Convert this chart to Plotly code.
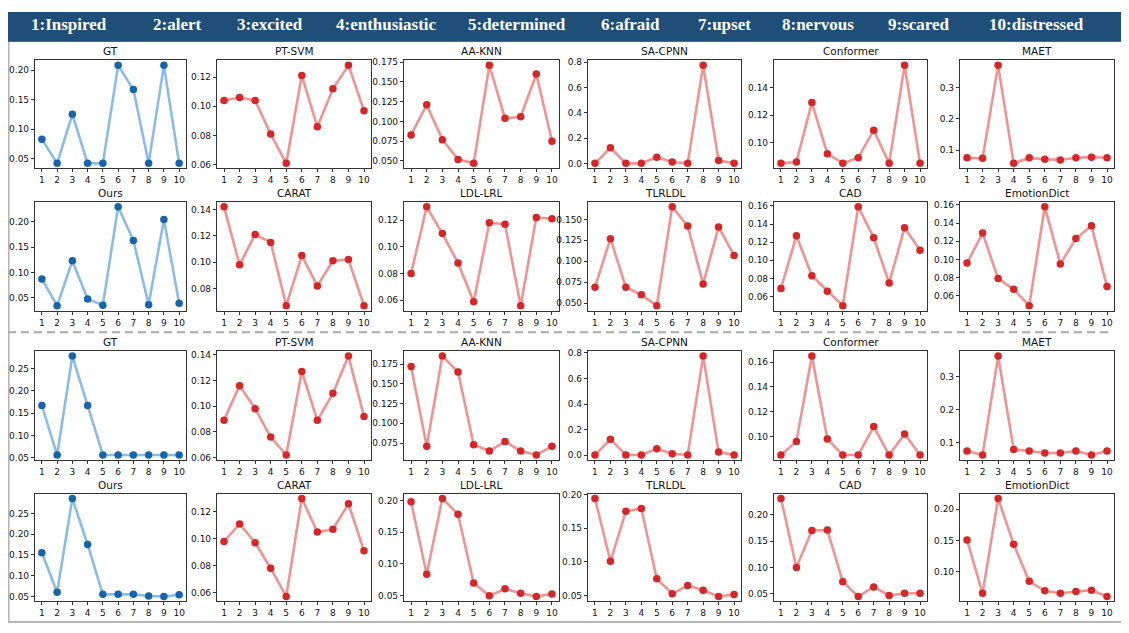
import plotly.graph_objects as go

W, H = 1129, 633
OFF = 8  # page body margin applied by the browser
FW, FH = W - OFF, H - OFF

categories = [1, 2, 3, 4, 5, 6, 7, 8, 9, 10]
x_tick_labels = ["1", "2", "3", "4", "5", "6", "7", "8", "9", "10"]
emotion_labels = ["1:Inspired", "2:alert", "3:excited", "4:enthusiastic", "5:determined",
                  "6:afraid", "7:upset", "8:nervous", "9:scared", "10:distressed"]

# ---- sample 1 (top half) ----
gt_1 = [0.083, 0.042, 0.125, 0.042, 0.042, 0.208, 0.167, 0.042, 0.208, 0.042]
ptsvm_1 = [0.104, 0.106, 0.104, 0.081, 0.061, 0.121, 0.086, 0.112, 0.128, 0.097]
aaknn_1 = [0.083, 0.121, 0.077, 0.052, 0.047, 0.171, 0.104, 0.106, 0.160, 0.075]
sacpnn_1 = [0.002, 0.125, 0.002, 0.002, 0.050, 0.012, 0.002, 0.775, 0.025, 0.002]
conformer_1 = [0.085, 0.086, 0.129, 0.092, 0.085, 0.089, 0.109, 0.085, 0.156, 0.085]
maet_1 = [0.075, 0.073, 0.373, 0.057, 0.075, 0.070, 0.068, 0.075, 0.077, 0.075]
ours_1 = [0.087, 0.034, 0.123, 0.047, 0.035, 0.230, 0.163, 0.036, 0.205, 0.039]
carat_1 = [0.142, 0.098, 0.121, 0.115, 0.067, 0.105, 0.082, 0.101, 0.102, 0.067]
ldllrl_1 = [0.080, 0.130, 0.110, 0.088, 0.059, 0.118, 0.117, 0.056, 0.122, 0.121]
tlrldl_1 = [0.069, 0.127, 0.069, 0.060, 0.047, 0.165, 0.142, 0.073, 0.141, 0.107]
cad_1 = [0.069, 0.127, 0.083, 0.066, 0.050, 0.159, 0.125, 0.075, 0.136, 0.111]
emotiondict_1 = [0.096, 0.129, 0.079, 0.067, 0.049, 0.158, 0.095, 0.123, 0.137, 0.070]

# ---- sample 2 (bottom half) ----
gt_2 = [0.167, 0.056, 0.278, 0.167, 0.056, 0.056, 0.056, 0.056, 0.056, 0.056]
ptsvm_2 = [0.089, 0.116, 0.098, 0.076, 0.062, 0.127, 0.089, 0.110, 0.139, 0.092]
aaknn_2 = [0.172, 0.071, 0.185, 0.165, 0.073, 0.065, 0.077, 0.065, 0.060, 0.071]
sacpnn_2 = [0.002, 0.125, 0.002, 0.002, 0.050, 0.012, 0.002, 0.775, 0.025, 0.002]
conformer_2 = [0.085, 0.096, 0.165, 0.098, 0.085, 0.085, 0.108, 0.085, 0.102, 0.085]
maet_2 = [0.075, 0.063, 0.363, 0.080, 0.075, 0.069, 0.069, 0.075, 0.063, 0.075]
ours_2 = [0.155, 0.060, 0.286, 0.175, 0.055, 0.055, 0.055, 0.051, 0.050, 0.054]
carat_2 = [0.098, 0.111, 0.097, 0.078, 0.057, 0.130, 0.105, 0.107, 0.126, 0.091]
ldllrl_2 = [0.198, 0.084, 0.203, 0.178, 0.070, 0.050, 0.061, 0.054, 0.049, 0.053]
tlrldl_2 = [0.194, 0.101, 0.175, 0.179, 0.075, 0.053, 0.065, 0.058, 0.049, 0.052]
cad_2 = [0.231, 0.100, 0.170, 0.171, 0.073, 0.045, 0.063, 0.047, 0.051, 0.051]
emotiondict_2 = [0.151, 0.066, 0.217, 0.144, 0.085, 0.070, 0.066, 0.069, 0.071, 0.061]

panel_titles = [
    ["GT", "PT-SVM", "AA-KNN", "SA-CPNN", "Conformer", "MAET"],
    ["Ours", "CARAT", "LDL-LRL", "TLRLDL", "CAD", "EmotionDict"],
    ["GT", "PT-SVM", "AA-KNN", "SA-CPNN", "Conformer", "MAET"],
    ["Ours", "CARAT", "LDL-LRL", "TLRLDL", "CAD", "EmotionDict"],
]
panel_data = [
    [gt_1, ptsvm_1, aaknn_1, sacpnn_1, conformer_1, maet_1],
    [ours_1, carat_1, ldllrl_1, tlrldl_1, cad_1, emotiondict_1],
    [gt_2, ptsvm_2, aaknn_2, sacpnn_2, conformer_2, maet_2],
    [ours_2, carat_2, ldllrl_2, tlrldl_2, cad_2, emotiondict_2],
]

# ---- styles / layout ----
tick_style = [
    [(0.05, ".2f"), (0.02, ".2f"), (0.025, ".3f"), (0.2, ".1f"), (0.02, ".2f"), (0.1, ".1f")],
    [(0.05, ".2f"), (0.02, ".2f"), (0.02, ".2f"), (0.025, ".3f"), (0.02, ".2f"), (0.02, ".2f")],
    [(0.05, ".2f"), (0.02, ".2f"), (0.025, ".3f"), (0.2, ".1f"), (0.02, ".2f"), (0.1, ".1f")],
    [(0.05, ".2f"), (0.02, ".2f"), (0.05, ".2f"), (0.05, ".2f"), (0.05, ".2f"), (0.05, ".2f")],
]
col_px = [(35, 186), (217, 371), (404, 559), (588, 741), (774, 927), (960, 1114)]
row_px = [(57, 166), (200, 310), (351, 461), (495, 604)]
header_centers = [69, 177, 270, 386, 517, 630, 724, 818, 919, 1036]


def px(x):
    return (x - OFF) / FW


def py(y):
    return 1 - (y - OFF) / FH


BLUE_M, BLUE_L = "#1764ab", "#8bbce8"
RED_M, RED_L = "#d62728", "#f09393"

fig = go.Figure()
annotations = []
layout_axes = {}
k = 0
for r in range(4):
    for c in range(6):
        k += 1
        ys = panel_data[r][c]
        is_blue = panel_titles[r][c] in ("GT", "Ours")
        mc, lc = (BLUE_M, BLUE_L) if is_blue else (RED_M, RED_L)
        xa = "x" if k == 1 else f"x{k}"
        ya = "y" if k == 1 else f"y{k}"
        fig.add_trace(go.Scatter(
            x=categories, y=ys, mode="lines+markers", xaxis=xa, yaxis=ya,
            line=dict(color=lc, width=2.6),
            marker=dict(color=mc, size=7.5),
            showlegend=False, hoverinfo="skip"))
        lo, hi = min(ys), max(ys)
        span = hi - lo
        x0, x1 = col_px[c]
        t0, t1 = row_px[r]
        dt, fmt = tick_style[r][c]
        axis_common = dict(showline=True, mirror=True, linecolor="#333333", linewidth=1.2,
                           showgrid=False, zeroline=False, ticks="outside", ticklen=3,
                           tickwidth=1, tickcolor="#333333",
                           tickfont=dict(family="DejaVu Sans", size=9, color="#111111"))
        layout_axes["xaxis" if k == 1 else f"xaxis{k}"] = dict(
            domain=[px(x0), px(x1)], anchor=ya,
            range=[0.55, 10.45], tickvals=categories, ticktext=x_tick_labels,
            **axis_common)
        layout_axes["yaxis" if k == 1 else f"yaxis{k}"] = dict(
            domain=[py(t1), py(t0)], anchor=xa,
            range=[lo - 0.05 * span, hi + 0.05 * span], tick0=0, dtick=dt,
            tickformat=fmt, **axis_common)
        annotations.append(dict(
            text=panel_titles[r][c], xref="paper", yref="paper",
            x=px((x0 + x1) / 2), y=py(t0 - 1), xanchor="center", yanchor="bottom",
            showarrow=False, font=dict(family="DejaVu Sans", size=10.5, color="#111111")))

for lbl, cx in zip(emotion_labels, header_centers):
    annotations.append(dict(
        text=f"<b>{lbl}</b>", xref="paper", yref="paper", x=px(cx), y=py(20.5),
        xanchor="center", yanchor="middle", showarrow=False,
        font=dict(family="Liberation Serif", size=17, color="white")))

shapes = [
    dict(type="rect", xref="paper", yref="paper", x0=0.0005, x1=px(1124),
         y0=py(625), y1=py(37), line=dict(color="#b5b5b5", width=2),
         fillcolor="rgba(0,0,0,0)", layer="below"),
    dict(type="rect", xref="paper", yref="paper", x0=0, x1=px(1126),
         y0=py(38), y1=1, line=dict(width=0), fillcolor="#1f4e79"),
    dict(type="line", xref="paper", yref="paper", x0=0, x1=px(1113),
         y0=py(332), y1=py(332),
         line=dict(color="#aaaaaa", width=2, dash="8px,5px")),
]

fig.update_layout(width=FW, height=FH, margin=dict(l=0, r=0, t=0, b=0),
                  paper_bgcolor="white", plot_bgcolor="white",
                  annotations=annotations, shapes=shapes, **layout_axes)
fig.write_html("out.html")
